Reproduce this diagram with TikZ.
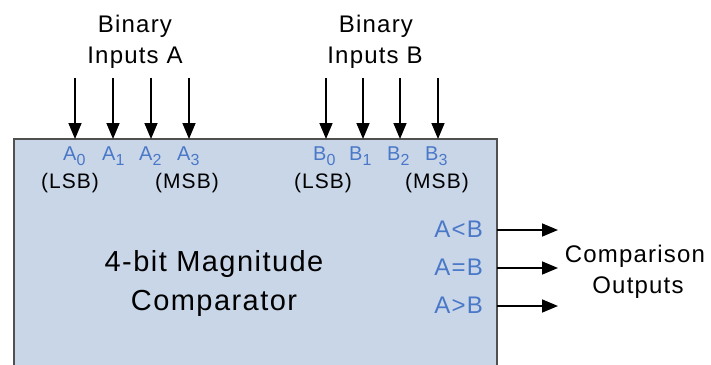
\documentclass[tikz,border=0pt]{standalone}
\usepackage{fontspec}
\setmainfont{Liberation Sans}[LetterSpace = 5]
\usetikzlibrary{arrows.meta}
\definecolor{boxfill}{HTML}{C9D6E8}
\definecolor{boxedge}{HTML}{505050}
\definecolor{pinblue}{HTML}{4A78C8}
\newcommand{\fsz}[1]{\fontsize{#1}{#1}\selectfont}
\newcommand{\pinsub}[1]{\raisebox{-5pt}{\fsz{16}#1}}
\begin{document}
\begin{tikzpicture}[x = 1pt, y = -1pt,
  lbl/.style = {inner sep = 0pt, anchor = base},
  pin/.style = {lbl, anchor = base west, text = pinblue, font = \fsz{20}},
  arr/.style = {line width = 1.6pt, -{Triangle[length = 16pt, width = 13pt]}}]
\useasboundingbox (0,0) rectangle (711,364);
\node[fill = boxfill, minimum width = 483pt, minimum height = 240pt, anchor = north west, inner sep = 0pt] (cmp) at (14,139) {};
\draw[boxedge, line width = 2pt] (cmp.south west) -- (cmp.north west) -- (cmp.north east) -- (cmp.south east);

\foreach \p/\i/\x/\dx in {A/0/75/12, A/1/113/11, A/2/151/12, A/3/189/12, B/0/326/13, B/1/363/14, B/2/400/13, B/3/438/13} {
  \coordinate (\p\i top) at (\x,78);
  \coordinate (\p\i end) at (\x,139);
  \draw[arr] (\p\i top) -- (\p\i end);
  \node[pin] (lbl\p\i) at (\x-\dx,160) {\p\pinsub{\i}};
}

\node[lbl, font = \fsz{24}] (binA) at (135,32) {Binary};
\node[lbl, font = \fsz{24}] (inA) at (135,63) {Inputs A};
\node[lbl, font = \fsz{24}] (binB) at (376,32) {Binary};
\node[lbl, font = \fsz{24}] (inB) at (375,63) {Inputs B};

\node[lbl, font = \fsz{21}] (lsbA) at (70,188) {(LSB)};
\node[lbl, font = \fsz{21}] (msbA) at (187,188) {(MSB)};
\node[lbl, font = \fsz{21}] (lsbB) at (323,188) {(LSB)};
\node[lbl, font = \fsz{21}] (msbB) at (437,188) {(MSB)};

\node[lbl, font = \fsz{29}] (title) at (214,271) {4-bit Magnitude};
\node[lbl, font = \fsz{29}] (subtitle) at (214,310) {Comparator};

\foreach \t/\s/\y/\b in {lt/A<B/230/237, eq/A=B/268/275, gt/A>B/306/313} {
  \node[lbl, anchor = base east, text = pinblue, font = \fsz{24}] (out\t) at (483,\b) {\s};
  \coordinate (\t from) at (497,\y);
  \coordinate (\t to) at (558,\y);
  \draw[arr] (\t from) -- (\t to);
}

\node[lbl, font = \fsz{24}] (cmpA) at (635,262) {Comparison};
\node[lbl, font = \fsz{24}] (cmpB) at (638,293) {Outputs};
\end{tikzpicture}
\end{document}
